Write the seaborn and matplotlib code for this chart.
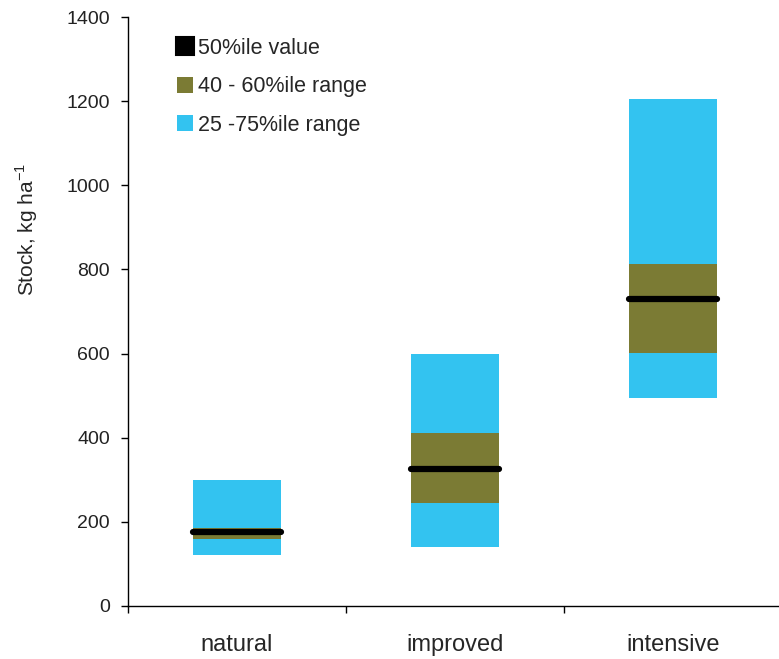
import numpy as np
import seaborn as sns
import matplotlib.pyplot as plt
from matplotlib.lines import Line2D
from matplotlib.patches import Patch

# valori
systems = ["natural", "improved", "intensive"]
p25 = [121, 141, 494]
p40 = [160, 244, 601]
p50 = [177, 326, 729]
p60 = [186, 412, 813]
p75 = [300, 598, 1205]

cyan = "#33C3F0"
olive = "#7B7B34"

sns.set_style("ticks")
plt.rcParams["font.family"] = ["Liberation Sans", "DejaVu Sans"]

fig = plt.figure(figsize=(7.79, 6.59), dpi=100)
ax = fig.add_axes([128 / 779, 53 / 659, 654 / 779, 589 / 659])

h_outer = np.array(p75) - np.array(p25)
h_inner = np.array(p60) - np.array(p40)

sns.barplot(x=systems, y=h_outer, bottom=p25, color=cyan, width=0.4,
            saturation=1, ax=ax, linewidth=0)
sns.barplot(x=systems, y=h_inner, bottom=p40, color=olive, width=0.4,
            saturation=1, ax=ax, linewidth=0)

xpos = np.arange(len(systems))
lc = ax.hlines(p50, xpos - 0.2, xpos + 0.2, color="black", lw=4.5, zorder=5)
lc.set_capstyle("round")

ax.set_xlim(-0.5, 2.5)
ax.set_ylim(0, 1400)
ax.set_yticks(range(0, 1401, 200))
ax.set_xticks([-0.5, 0.5, 1.5, 2.5], minor=False)
ax.set_xticklabels([])
ax.set_xticks(xpos, minor=True)
ax.set_xticklabels(systems, minor=True, fontsize=17)
ax.tick_params(axis="x", which="minor", length=0, pad=20)
ax.tick_params(axis="x", which="major", length=5, direction="out", width=1, color="black")
ax.tick_params(axis="y", length=5, direction="out", width=1, color="black",
               labelsize=14, pad=8, labelcolor="#222222")
ax.set_ylabel("Stock, kg ha$^{\\mathregular{-1}}$", fontsize=15)
ax.yaxis.set_label_coords(-0.135, 0.64)
ax.set_xlabel("")

for side in ["top", "right"]:
    ax.spines[side].set_visible(False)
for side in ["left", "bottom"]:
    ax.spines[side].set_color("black")
    ax.spines[side].set_linewidth(1)

handles = [
    Line2D([], [], marker="s", color="black", markersize=13, linestyle="none",
           markeredgewidth=1.5, markeredgecolor="black"),
    Patch(facecolor=olive, edgecolor="none"),
    Patch(facecolor=cyan, edgecolor="none"),
]
labels = ["50%ile value", "40 - 60%ile range", "25 -75%ile range"]
ax.legend(handles, labels, loc="upper left", bbox_to_anchor=(0.045, 0.997),
          frameon=False, fontsize=15.5, handlelength=0.75, handleheight=0.75,
          handletextpad=0.25, labelspacing=0.8)

fig.savefig("out.png", dpi=100)
